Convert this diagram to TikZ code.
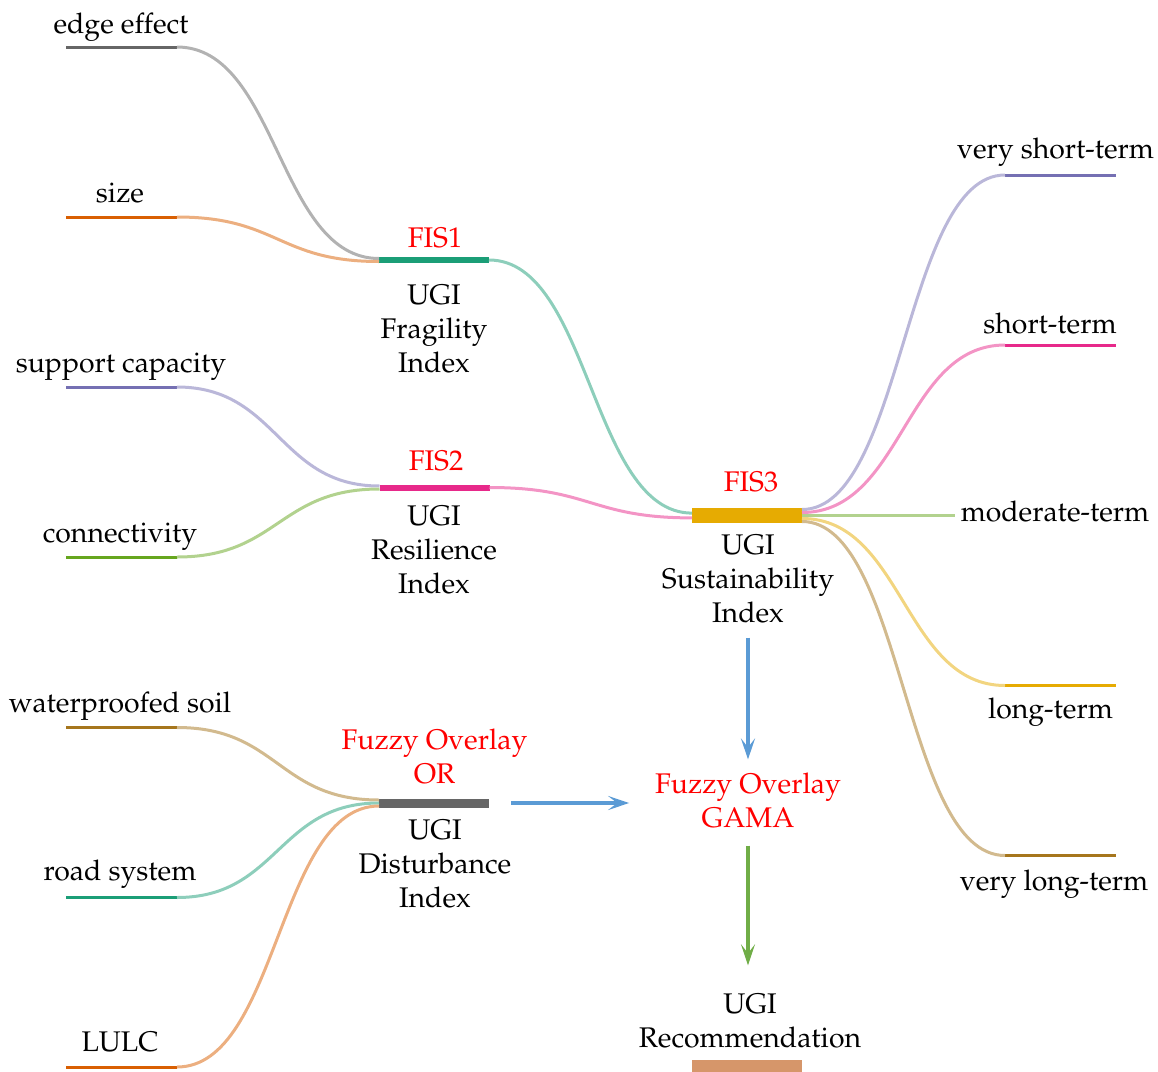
\documentclass[tikz,border=0pt]{standalone}
\usepackage[T1]{fontenc}
\usepackage{mathpazo}
\usetikzlibrary{arrows.meta}
\definecolor{cteal}{HTML}{1B9E77}
\definecolor{corange}{HTML}{D95F02}
\definecolor{cpurple}{HTML}{7570B3}
\definecolor{cpink}{HTML}{E7298A}
\definecolor{cgreen}{HTML}{66A61E}
\definecolor{cyellow}{HTML}{E6AB02}
\definecolor{cbrown}{HTML}{A6761D}
\definecolor{cgray}{HTML}{666666}
\definecolor{cblue}{HTML}{5B9BD5}
\definecolor{carrowgreen}{HTML}{70AD47}
\definecolor{crec}{HTML}{D6966A}
\begin{document}
\begin{tikzpicture}[x=0.5pt,y=-0.5pt,
  every node/.style={font=\fontsize{14.2}{17}\selectfont, inner sep=0pt, outer sep=0pt},
  bar/.style={rectangle, fill=#1, draw=none, minimum width=55.5pt, minimum height=1.5pt, inner sep=0pt},
  midbar/.style={rectangle, fill=#1, draw=none, minimum width=55pt, inner sep=0pt},
  lbl/.style={anchor=base, align=center},
  red lbl/.style={anchor=base, align=center, text=red},
  link/.style={draw=#1!50, line width=1.5pt},
  flow/.style={draw=#1, line width=2pt, -{Stealth[length=10.5pt, width=7pt, inset=4.5pt]}}
]
\useasboundingbox (0,0) rectangle (1158,1072);

% input bars
\node[bar=cgray]   (ee)  at (121.5,47)   {};
\node[bar=corange] (sz)  at (121.5,217)  {};
\node[bar=cpurple] (sc)  at (121.5,387)  {};
\node[bar=cgreen]  (cn)  at (121.5,557)  {};
\node[bar=cbrown]  (ws)  at (121.5,727.5){};
\node[bar=cteal]   (rs)  at (121.5,897.5){};
\node[bar=corange] (lu)  at (121.5,1067) {};

% input labels
\node[lbl] (eeL) at (121,33)   {edge effect};
\node[lbl] (szL) at (120,202)  {size};
\node[lbl] (scL) at (121,372)  {support capacity};
\node[lbl] (cnL) at (120,542)  {connectivity};
\node[lbl] (wsL) at (120,712)  {waterproofed soil};
\node[lbl] (rsL) at (120,880)  {road system};
\node[lbl] (luL) at (120,1051) {LULC};

% middle bars
\node[midbar=cteal, minimum height=3pt]   (f1) at (434,260)   {};
\node[midbar=cpink, minimum height=3pt]   (f2) at (434.5,487.5) {};
\node[midbar=cgray, minimum height=4.5pt] (dist) at (434,803) {};
\node[midbar=cyellow, minimum height=7.8pt] (f3) at (747,515.5) {};
\node[midbar=crec, minimum height=6pt] (rec) at (747,1066) {};

% middle labels (base = baseline of last line)
\node[red lbl] (f1L) at (435,247) {FIS1};
\node[lbl] (f1T) at (434,372) {UGI\\Fragility\\Index};
\node[red lbl] (f2L) at (436,470) {FIS2};
\node[lbl] (f2T) at (434,593) {UGI\\Resilience\\Index};
\node[red lbl] (distL) at (434.5,783) {Fuzzy Overlay\\OR};
\node[lbl] (distT) at (435,907) {UGI\\Disturbance\\Index};
\node[red lbl] (f3L) at (751,491) {FIS3};
\node[lbl] (f3T) at (748,622) {UGI\\Sustainability\\Index};
\node[red lbl] (gama) at (748,827) {Fuzzy Overlay\\GAMA};
\node[lbl] (recT) at (750,1047) {UGI\\Recommendation};

% output bars
\node[bar=cpurple] (vs) at (1060.5,175) {};
\node[bar=cpink]   (st) at (1060.5,345) {};
\coordinate (mt) at (955,515.5);
\node[bar=cyellow] (lt) at (1060.5,685.5) {};
\node[bar=cbrown]  (vl) at (1060.5,855.5) {};

% output labels
\node[lbl] (vsL) at (1055.5,158) {very short-term};
\node[lbl] (stL) at (1050,333) {short-term};
\node[lbl] (mtL) at (1055,521) {moderate-term};
\node[lbl] (ltL) at (1050.5,718) {long-term};
\node[lbl] (vlL) at (1054,890) {very long-term};

% links to FIS1
\draw[link=cgray]   (ee.east) .. controls +(101,0) and +(-101,0) .. ([yshift=0.75pt]f1.west);
\draw[link=corange] (sz.east) .. controls +(101,0) and +(-101,0) .. ([yshift=-0.75pt]f1.west);
% links to FIS2
\draw[link=cpurple] (sc.east) .. controls +(101,0) and +(-101,0) .. ([yshift=0.75pt]f2.west);
\draw[link=cgreen]  (cn.east) .. controls +(101,0) and +(-101,0) .. ([yshift=-0.75pt]f2.west);
% links to disturbance
\draw[link=cbrown]  (ws.east) .. controls +(101,0) and +(-101,0) .. ([yshift=1.5pt]dist.west);
\draw[link=cteal]   (rs.east) .. controls +(101,0) and +(-101,0) .. (dist.west);
\draw[link=corange] (lu.east) .. controls +(101,0) and +(-101,0) .. ([yshift=-1.5pt]dist.west);
% links to FIS3
\draw[link=cteal] (f1.east) .. controls +(101,0) and +(-101,0) .. ([yshift=1.2pt]f3.west);
\draw[link=cpink] (f2.east) .. controls +(101,0) and +(-101,0) .. ([yshift=-1.2pt]f3.west);
% links from FIS3
\draw[link=cpurple] ([yshift=3pt]f3.east) .. controls +(101,0) and +(-101,0) .. (vs.west);
\draw[link=cpink]   ([yshift=1.5pt]f3.east) .. controls +(101,0) and +(-101,0) .. (st.west);
\draw[link=cyellow] ([yshift=-1.5pt]f3.east) .. controls +(101,0) and +(-101,0) .. (lt.west);
\draw[link=cbrown]  ([yshift=-3pt]f3.east) .. controls +(101,0) and +(-101,0) .. (vl.west);
\draw[link=cgreen]  (f3.east) -- (mt);

% flow arrows
\draw[flow=cblue, shorten <=11pt, shorten >=13pt] (dist.east) -- (dist.east -| gama.west);
\draw[flow=cblue, shorten <=7.5pt, shorten >=6.5pt] (f3T.south) -- (f3T.south |- gama.north);
\draw[flow=carrowgreen, shorten <=9pt, shorten >=14pt] (gama.south) -- (gama.south |- recT.north);
\end{tikzpicture}
\end{document}
